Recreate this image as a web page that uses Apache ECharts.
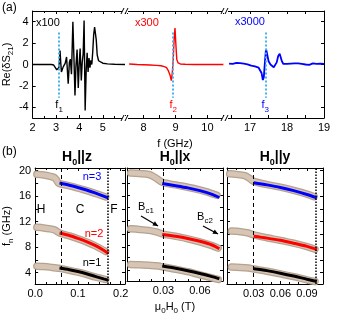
<!DOCTYPE html>
<html><head><meta charset="utf-8">
<script src="https://cdn.jsdelivr.net/npm/echarts@6/dist/echarts.min.js"></script>
<style>html,body{margin:0;padding:0;background:#fff}#c{width:339px;height:316px}</style>
</head><body><div id="c"></div>
<script>
// ---------- panel (a) data ----------
const traceBlack = [[2,0],[2.5,0],[2.8,0],[2.9,-0.05],[2.97,-0.2],[3.03,-0.5],[3.08,-0.65],[3.12,-0.3],[3.15,0.5],[3.17,1.3],[3.2,0.2],[3.23,-0.7],[3.27,-0.45],[3.31,-0.2],[3.35,-0.35],[3.39,0.1],[3.45,0.7],[3.52,-1.8],[3.57,0.2],[3.61,0.5],[3.66,-0.9],[3.72,4.0],[3.76,1.0],[3.81,-2.9],[3.85,-0.2],[3.9,1.4],[3.95,-2.2],[3.99,0.0],[4.03,1.5],[4.08,-1.5],[4.12,0.2],[4.16,1.0],[4.2,4.1],[4.245,-4.3],[4.29,-0.5],[4.33,1.1],[4.37,-0.7],[4.41,0.6],[4.45,-0.3],[4.49,0.4],[4.53,0.0],[4.57,1.2],[4.61,2.8],[4.65,3.5],[4.69,3.4],[4.72,2.3],[4.76,0.9],[4.82,0.35],[4.9,0.2],[5.0,0.12],[5.2,0.06],[5.5,0.02],[5.95,0.0]];
const traceRed = [[7.55,0.05],[7.8,0.0],[8.0,-0.02],[8.2,-0.05],[8.4,-0.08],[8.55,-0.12],[8.65,-0.2],[8.72,-0.3],[8.78,-0.6],[8.83,-1.0],[8.87,-1.5],[8.9,-0.8],[8.93,0.5],[8.96,2.5],[8.985,3.4],[9.01,2.0],[9.04,0.5],[9.08,0.15],[9.15,0.05],[9.3,0.02],[9.6,0.0],[10.0,0.0],[10.5,0.0]];
const traceBlue = [[16.43,0.08],[16.48,0.12],[16.53,0.05],[16.58,0.1],[16.63,0.15],[16.68,0.05],[16.73,0.12],[16.78,0.02],[16.83,0.08],[16.88,-0.05],[16.93,0.02],[16.98,-0.08],[17.03,-0.1],[17.08,-0.05],[17.13,-0.18],[17.18,-0.15],[17.23,-0.3],[17.27,-0.45],[17.31,-0.8],[17.345,-1.45],[17.37,-1.2],[17.4,0.2],[17.43,1.45],[17.46,1.0],[17.5,0.3],[17.55,0.0],[17.6,-0.15],[17.64,-0.25],[17.68,-0.1],[17.72,0.2],[17.76,0.8],[17.8,1.0],[17.83,0.9],[17.86,0.3],[17.9,0.05],[17.95,-0.05],[18.0,0.05],[18.05,-0.02],[18.1,0.08],[18.15,0.0],[18.2,0.1],[18.25,0.02],[18.3,0.1],[18.35,-0.02],[18.4,0.06],[18.45,0.1],[18.5,0.0],[18.55,0.08],[18.6,-0.03],[18.65,0.05],[18.7,0.1],[18.75,-0.02],[18.8,0.06],[18.85,0.0],[18.9,0.08],[18.95,0.02],[19.0,0.05]];
const fMarks = [3.13, 8.93, 17.41];
const fMarkSpan = [3.0, -3.1];
const fNames = ['1', '2', '3'];
const yTicksA = [-4, -2, 0, 2, 4];
const xTicksSeg1 = [2, 3, 4, 5];
const xTicksSeg2 = [8, 9, 10];
const xTicksSeg3 = [17, 18, 19];
const scaleNotes = ['x100', 'x300', 'x3000'];

// ---------- panel (b) data ----------
const bc1 = [0.057, 0.029, 0.030];
const bc2 = [0.171, 0.076, 0.101];
const fTicksB = [4, 8, 12, 16, 20];
const fieldTicksZ = [0, 0.1, 0.2];
const fieldTicksX = [0.03, 0.06];
const fieldTicksY = [0.03, 0.06, 0.09];
const frameTitles = ['z', 'x', 'y'];
// H0 || z
const zBeige3 = [[0.004,19.4],[0.02,19.3],[0.035,19.1],[0.045,18.9],[0.05,18.5],[0.055,18.0],[0.07,17.75],[0.09,17.45],[0.11,17.05],[0.13,16.65],[0.15,16.2],[0.165,15.85]];
const zLine3 = [[0.057,18.05],[0.08,17.7],[0.1,17.35],[0.12,16.95],[0.14,16.5],[0.16,16.0],[0.171,15.7]];
const zBeige2 = [[0.004,11.1],[0.02,11.0],[0.035,10.85],[0.045,10.7],[0.05,10.5],[0.057,10.2],[0.08,9.75],[0.1,9.3],[0.12,8.8],[0.14,8.2],[0.165,7.3]];
const zLine2 = [[0.057,10.2],[0.08,9.8],[0.1,9.35],[0.12,8.85],[0.14,8.25],[0.16,7.5],[0.171,7.0]];
const zBeige1 = [[0.004,5.0],[0.02,4.95],[0.035,4.85],[0.045,4.75],[0.057,4.65],[0.08,4.35],[0.1,4.05],[0.12,3.7],[0.14,3.3],[0.165,2.9]];
const zLine1 = [[0.057,4.7],[0.08,4.45],[0.1,4.15],[0.12,3.8],[0.14,3.4],[0.16,3.0],[0.171,2.8]];
// H0 || x
const xBeige3 = [[0.003,19.6],[0.01,19.5],[0.018,19.35],[0.022,19.0],[0.026,18.5],[0.029,18.1],[0.035,17.85],[0.045,17.5],[0.055,17.1],[0.065,16.6],[0.074,16.0]];
const xLine3 = [[0.029,17.9],[0.04,17.55],[0.05,17.2],[0.06,16.75],[0.07,16.15],[0.076,15.65]];
const xBeige2 = [[0.003,10.6],[0.01,10.5],[0.018,10.35],[0.024,10.1],[0.029,9.8],[0.04,9.4],[0.05,9.0],[0.06,8.5],[0.07,7.9],[0.075,7.5]];
const xLine2 = [[0.029,9.7],[0.04,9.4],[0.05,9.05],[0.06,8.6],[0.07,8.0],[0.076,7.4]];
const xBeige1 = [[0.003,4.85],[0.01,4.8],[0.02,4.7],[0.026,4.6],[0.029,4.5],[0.04,4.1],[0.05,3.7],[0.06,3.2],[0.07,2.7],[0.075,2.45]];
const xLine1 = [[0.029,4.6],[0.04,4.25],[0.05,3.85],[0.06,3.4],[0.07,2.9],[0.076,2.55]];
// H0 || y
const yBeige3 = [[0.003,19.5],[0.01,19.4],[0.02,19.2],[0.025,18.8],[0.03,18.3],[0.045,17.8],[0.06,17.4],[0.075,16.9],[0.09,16.3],[0.098,15.9]];
const yLine3 = [[0.03,18.1],[0.045,17.75],[0.06,17.35],[0.075,16.85],[0.09,16.25],[0.101,15.7]];
const yBeige2 = [[0.005,10.5],[0.015,10.4],[0.024,10.2],[0.03,9.9],[0.045,9.45],[0.06,9.05],[0.075,8.6],[0.09,8.05],[0.099,7.65]];
const yLine2 = [[0.03,9.7],[0.045,9.4],[0.06,9.05],[0.075,8.6],[0.09,8.1],[0.101,7.6]];
const yBeige1 = [[0.005,4.85],[0.015,4.8],[0.024,4.7],[0.03,4.55],[0.045,4.2],[0.06,3.8],[0.075,3.35],[0.09,2.85],[0.099,2.6]];
const yLine1 = [[0.03,4.6],[0.045,4.3],[0.06,3.9],[0.075,3.45],[0.09,2.95],[0.101,2.6]];

// ---------- build ----------
const FONT = '"Liberation Sans", Arial, sans-serif';
const RED = '#ff0000', BLUE = '#0000ff', BLACK = '#000000', FBLUE = '#45b4ee';
const modeColors = [BLACK, RED, BLUE];
function subRich(size, subSize, color, bold, useFill) {
  const c = useFill ? {fill: color} : {color: color};
  return {
    m: Object.assign({fontSize: size, fontFamily: FONT, fontWeight: bold ? 'bold' : 'normal', padding: [0,0,3,0], verticalAlign: 'bottom'}, c),
    s: Object.assign({fontSize: subSize, fontFamily: FONT, fontWeight: bold ? 'bold' : 'normal', verticalAlign: 'bottom'}, c)
  };
}

function xAx(grid, min, max, pos, opt) {
  opt = opt || {};
  const bottom = pos === 'bottom';
  const a = {
    type: 'value', gridIndex: grid, min: min, max: max, position: pos,
    axisLine: {show: true, onZero: false, lineStyle: {color: '#000', width: 1}},
    axisTick: {show: true, inside: true, length: 3, lineStyle: {color: '#000', width: 1}},
    minorTick: {show: !!opt.minor, splitNumber: opt.minor || 2, length: 2, lineStyle: {color: '#000'}},
    splitLine: {show: false},
    axisLabel: {show: bottom, color: '#000', fontSize: 11, fontFamily: FONT, margin: 4}
  };
  if (opt.interval) a.interval = opt.interval;
  if (opt.labels) a.axisLabel.customValues = opt.labels;
  if (opt.ticks) a.axisTick.customValues = opt.ticks;
  if (opt.fmt) a.axisLabel.formatter = opt.fmt;
  if (opt.name) {
    a.name = opt.name; a.nameLocation = 'middle'; a.nameGap = opt.nameGap || 20;
    a.nameTextStyle = {color: '#000', fontSize: 11, fontFamily: FONT, rich: subRich(11, 8, '#000')};
  }
  return a;
}
function yAx(grid, min, max, pos, opt) {
  opt = opt || {};
  const a = {
    type: 'value', gridIndex: grid, min: min, max: max, position: pos, show: opt.hide ? false : true,
    axisLine: {show: true, onZero: false, lineStyle: {color: '#000', width: 1}},
    axisTick: {show: true, inside: true, length: 3, lineStyle: {color: '#000', width: 1}, customValues: opt.ticks},
    splitLine: {show: false},
    axisLabel: {show: !!opt.labels, color: '#000', fontSize: 11, fontFamily: FONT, margin: 4, customValues: opt.labels}
  };
  if (opt.name) {
    a.name = opt.name; a.nameLocation = 'middle'; a.nameGap = opt.nameGap || 18; a.nameRotate = 90;
    a.nameTextStyle = {color: '#000', fontSize: 11, fontFamily: FONT, rich: subRich(11, 8, '#000')};
  }
  return a;
}

const grids = [
  {left: 30, top: 11, width: 95, height: 107},
  {left: 125, top: 11, width: 100, height: 107},
  {left: 225, top: 11, width: 99, height: 107},
  {left: 29, top: 168, width: 96, height: 116},
  {left: 127, top: 168, width: 96, height: 116},
  {left: 227, top: 168, width: 96, height: 116}
];

const xAxes = [
  xAx(0, 2, 5.95, 'bottom', {interval: 1, minor: 2, labels: xTicksSeg1}),
  xAx(0, 2, 5.95, 'top', {interval: 1, minor: 2}),
  xAx(1, 7.42, 10.55, 'bottom', {labels: xTicksSeg2, ticks: [7.5,8,8.5,9,9.5,10,10.5], name: 'f (GHz)', nameGap: 20}),
  xAx(1, 7.42, 10.55, 'top', {ticks: [7.5,8,8.5,9,9.5,10,10.5]}),
  xAx(2, 16.32, 19, 'bottom', {labels: xTicksSeg3, ticks: [16.5,17,17.5,18,18.5,19]}),
  xAx(2, 16.32, 19, 'top', {ticks: [16.5,17,17.5,18,18.5,19]}),
  xAx(3, 0, 0.21, 'bottom', {interval: 0.1, minor: 4, labels: fieldTicksZ, fmt: v => v.toFixed(1)}),
  xAx(3, 0, 0.21, 'top', {interval: 0.1, minor: 4}),
  xAx(4, 0, 0.079, 'bottom', {interval: 0.03, minor: 3, labels: fieldTicksX, fmt: v => v.toFixed(2), name: '{m|μ}{s|0}{m|H}{s|0}{m| (T)}', nameGap: 20}),
  xAx(4, 0, 0.079, 'top', {interval: 0.03, minor: 3}),
  xAx(5, 0, 0.108, 'bottom', {interval: 0.03, minor: 3, labels: fieldTicksY, fmt: v => v.toFixed(2)}),
  xAx(5, 0, 0.108, 'top', {interval: 0.03, minor: 3})
];
const ticksB = [4,6,8,10,12,14,16,18,20];
const yAxes = [
  yAx(0, -5, 5, 'left', {labels: yTicksA, ticks: yTicksA, name: '{m|Re(δS}{s|21}{m|)}', nameGap: 16}),
  yAx(1, -5, 5, 'left', {hide: true}),
  yAx(2, -5, 5, 'right', {ticks: yTicksA}),
  yAx(3, 2.2, 20.4, 'left', {labels: fTicksB, ticks: ticksB, name: '{m|f}{s|n}{m| (GHz)}', nameGap: 17}),
  yAx(3, 2.2, 20.4, 'right', {ticks: ticksB}),
  yAx(4, 2.2, 20.4, 'left', {ticks: ticksB}),
  yAx(4, 2.2, 20.4, 'right', {ticks: ticksB}),
  yAx(5, 2.2, 20.4, 'left', {ticks: ticksB}),
  yAx(5, 2.2, 20.4, 'right', {ticks: ticksB})
];

function fLine(i, color) {
  return {
    silent: true, symbol: 'none',
    lineStyle: {color: FBLUE, type: [2, 2], width: 2},
    label: {show: true, position: 'end', distance: 2, formatter: '{m|f}{s|' + fNames[i] + '}', rich: subRich(11, 8, color)},
    data: [[{coord: [fMarks[i], fMarkSpan[0]]}, {coord: [fMarks[i], fMarkSpan[1]]}]]
  };
}
const series = [
  {type: 'line', xAxisIndex: 0, yAxisIndex: 0, data: traceBlack, showSymbol: false, lineStyle: {color: BLACK, width: 1.4}, markLine: fLine(0, BLACK), animation: false},
  {type: 'line', xAxisIndex: 2, yAxisIndex: 1, data: traceRed, showSymbol: false, lineStyle: {color: RED, width: 1.4}, markLine: fLine(1, RED), animation: false},
  {type: 'line', xAxisIndex: 4, yAxisIndex: 2, data: traceBlue, showSymbol: false, lineStyle: {color: BLUE, width: 1.8}, markLine: fLine(2, BLUE), animation: false}
];

const frames = [
  {beige: [zBeige1, zBeige2, zBeige3], lines: [zLine1, zLine2, zLine3]},
  {beige: [xBeige1, xBeige2, xBeige3], lines: [xLine1, xLine2, xLine3]},
  {beige: [yBeige1, yBeige2, yBeige3], lines: [yLine1, yLine2, yLine3]}
];
frames.forEach((fr, k) => {
  const xi = 6 + 2 * k, yi = 3 + 2 * k;
  fr.beige.forEach(b => {
    series.push({type: 'line', xAxisIndex: xi, yAxisIndex: yi, data: b, showSymbol: false, smooth: 0.3,
      lineStyle: {color: '#b5a28f', width: 7.5, cap: 'round', join: 'round'}, animation: false, silent: true});
    series.push({type: 'line', xAxisIndex: xi, yAxisIndex: yi, data: b, showSymbol: false, smooth: 0.3,
      lineStyle: {color: '#d6c5b4', width: 5, cap: 'round', join: 'round'}, animation: false, silent: true});
  });
  fr.lines.forEach((l, n) => {
    const s = {type: 'line', xAxisIndex: xi, yAxisIndex: yi, data: l, showSymbol: false, smooth: 0.3,
      lineStyle: {color: modeColors[n], width: 3}, animation: false, silent: true};
    if (n === 0) {
      s.markLine = {silent: true, symbol: 'none', label: {show: false},
        data: [
          {xAxis: bc1[k], lineStyle: {color: '#000', type: [4, 3], width: 1}},
          {xAxis: bc2[k], lineStyle: {color: '#000', type: [1.5, 1.5], width: 1.5}}
        ]};
    }
    series.push(s);
  });
});

// ---------- graphic annotations ----------
const G = [];
function txt(x, y, text, opts) {
  G.push({type: 'text', x: x, y: y, z: 100,
    style: Object.assign({text: text, fontSize: 11, fontFamily: FONT, fill: '#000', align: 'center', verticalAlign: 'middle'}, opts || {})});
}
txt(2, 8, '(a)', {fontSize: 12, align: 'left'});
txt(2, 152, '(b)', {fontSize: 12, align: 'left'});
txt(36, 23, scaleNotes[0], {align: 'left'});
txt(135, 23, scaleNotes[1], {align: 'left', fill: RED});
txt(235, 22, scaleNotes[2], {align: 'left', fill: BLUE});
// break marks
[125, 225].forEach(bx => {
  [11, 118].forEach(by => {
    G.push({type: 'rect', z: 99, shape: {x: bx - 3, y: by - 2, width: 6, height: 4}, style: {fill: '#fff'}});
    G.push({type: 'line', z: 100, shape: {x1: bx - 4, y1: by + 3, x2: bx - 1, y2: by - 3}, style: {stroke: '#000', lineWidth: 1}});
    G.push({type: 'line', z: 100, shape: {x1: bx + 0, y1: by + 3, x2: bx + 3, y2: by - 3}, style: {stroke: '#000', lineWidth: 1}});
  });
});
// frame titles
const titleX = [77, 175, 275];
frameTitles.forEach((t, i) => {
  G.push({type: 'text', x: titleX[i], y: 159, z: 100, style: {
    text: '{m|H}{s|0}{m|||' + t + '}', align: 'center', verticalAlign: 'middle',
    rich: subRich(14, 9, '#000', true, true)}});
});
txt(41, 210, 'H', {fontSize: 12});
txt(80, 210, 'C', {fontSize: 12});
txt(114, 210, 'F', {fontSize: 12});
txt(92, 177, 'n=3', {fill: BLUE});
txt(94, 234, 'n=2', {fill: RED});
txt(92, 263, 'n=1', {fill: BLACK});
function bcLabel(x, y, sub) {
  G.push({type: 'text', x: x, y: y, z: 100, style: {text: '{m|B}{s|' + sub + '}', align: 'center', verticalAlign: 'middle',
    rich: subRich(11, 8, '#000', false, true)}});
}
bcLabel(146, 208, 'c1');
bcLabel(205, 218, 'c2');
function arrow(x1, y1, x2, y2) {
  G.push({type: 'line', z: 100, shape: {x1: x1, y1: y1, x2: x2, y2: y2}, style: {stroke: '#000', lineWidth: 1.2}});
  const ang = Math.atan2(y2 - y1, x2 - x1), L = 5, W = 2.5;
  const bx = x2 - L * Math.cos(ang), by = y2 - L * Math.sin(ang);
  G.push({type: 'polygon', z: 100, shape: {points: [[x2, y2], [bx - W * Math.sin(ang), by + W * Math.cos(ang)], [bx + W * Math.sin(ang), by - W * Math.cos(ang)]]}, style: {fill: '#000'}});
}
arrow(141, 216, 158, 226);
arrow(203, 226, 218, 234);

const chart = echarts.init(document.getElementById('c'), null, {renderer: 'canvas'});
chart.setOption({
  animation: false,
  backgroundColor: '#fff',
  textStyle: {fontFamily: FONT},
  grid: grids,
  xAxis: xAxes,
  yAxis: yAxes,
  series: series,
  graphic: G
});
</script></body></html>
